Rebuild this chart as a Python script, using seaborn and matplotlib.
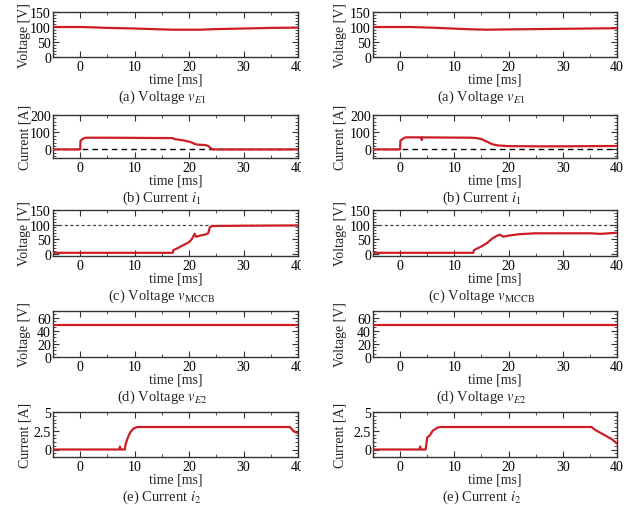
import numpy as np
import pandas as pd
import matplotlib
matplotlib.use("Agg")
import matplotlib.pyplot as plt
import seaborn as sns
from matplotlib.patches import Rectangle
from matplotlib.transforms import IdentityTransform
from matplotlib.ticker import MultipleLocator

# ---------------- data ----------------
# (a) voltage v_E1
t_a_left = [-5, 0, 2, 5, 10, 15, 17, 20, 22, 25, 30, 35, 40]
v_a_left = [100, 100, 99, 97, 95, 92, 91, 91, 91, 93, 95, 97, 98]
t_a_right = [-5, 0, 2, 7, 12, 16, 20, 25, 30, 35, 40]
v_a_right = [100, 100, 100, 97, 93, 91, 92, 93, 94, 95, 96]

# (b) current i1
t_b_left = [-5, 0, 0.05, 0.5, 1, 5, 10, 15, 17, 17.3, 18, 19, 20, 20.5, 21, 21.5, 23, 23.5, 24.2, 24.5, 40]
i_b_left = [0, 0, 50, 62, 68, 68, 67, 66, 66, 60, 57, 52, 45, 40, 32, 28, 25, 20, 2, 0, 0]
t_b_right = [-5, 0, 0.05, 0.5, 1, 3.9, 4.0, 4.1, 8, 13, 14, 15, 16, 17, 18, 20, 25, 30, 35, 40]
i_b_right = [0, 0, 50, 62, 70, 70, 55, 70, 69, 68, 66, 60, 45, 30, 23, 19, 18, 18, 19, 20]

# (c) voltage v_MCCB
t_c_left = [-5, 17, 17.1, 18, 19, 20, 20.5, 21, 21.3, 22, 23, 23.5, 23.8, 24.2, 30, 40]
v_c_left = [3, 3, 12, 20, 30, 40, 50, 68, 58, 62, 66, 70, 90, 95, 96, 97]
t_c_right = [-5, 13.5, 13.6, 15, 16, 17, 18, 18.5, 19, 20, 22, 25, 30, 35, 37, 40]
v_c_right = [3, 3, 12, 25, 36, 52, 63, 65, 58, 62, 67, 70, 70, 70, 68, 72]

# (d) voltage v_E2
t_d = [-5, 40]
v_d_left = [48, 48]
v_d_right = [48, 48]

# (e) current i2
t_e_left = [-5, 7.2, 7.3, 7.4, 8.2, 8.3, 8.7, 9.2, 9.8, 10.5, 38.5, 39, 39.5, 40]
i_e_left = [0, 0, 0.4, 0, 0, 0.6, 1.5, 2.3, 2.8, 3.0, 3.0, 2.6, 2.3, 2.2]
t_e_right = [-5, 3.6, 3.7, 3.8, 4.7, 4.8, 5.0, 5.5, 6.0, 7.0, 7.5, 35.3, 36, 37, 38, 39, 40]
i_e_right = [0, 0, 0.4, 0, 0, 0.5, 1.6, 1.9, 2.5, 2.95, 3.0, 3.0, 2.6, 2.2, 1.8, 1.4, 0.8]

ylabels = ["Voltage [V]", "Current [A]", "Voltage [V]", "Voltage [V]", "Current [A]"]
captions = [r"(a) Voltage $\mathit{v}_{E1}$", r"(b) Current $\mathit{i}_{1}$",
            r"(c) Voltage $\mathit{v}_{\mathrm{MCCB}}$", r"(d) Voltage $\mathit{v}_{E2}$",
            r"(e) Current $\mathit{i}_{2}$"]
ylims = [(0, 150), (-50, 200), (-8, 150), (0, 70), (-1, 5)]
yticks = [[0, 50, 100, 150], [0, 100, 200], [0, 50, 100, 150], [0, 20, 40, 60], [0, 2.5, 5]]
yticklabels = [["0", "50", "100", "150"], ["0", "100", "200"], ["0", "50", "100", "150"],
               ["0", "20", "40", "60"], ["0", "2.5", "5"]]
yminor = [10, 20, 10, 5, 0.5]
xticks = [0, 10, 20, 30, 40]
ref_lines = [None, 0, 100, None, None]

series_left = [(t_a_left, v_a_left), (t_b_left, i_b_left), (t_c_left, v_c_left),
               (t_d, v_d_left), (t_e_left, i_e_left)]
series_right = [(t_a_right, v_a_right), (t_b_right, i_b_right), (t_c_right, v_c_right),
                (t_d, v_d_right), (t_e_right, i_e_right)]

# ---------------- style ----------------
sns.set_style("ticks")
plt.rcParams["font.family"] = ["Liberation Serif", "DejaVu Serif"]
plt.rcParams["mathtext.fontset"] = "stix"
plt.rcParams["axes.edgecolor"] = "#333333"
plt.rcParams["axes.linewidth"] = 1.0
plt.rcParams["xtick.direction"] = "in"
plt.rcParams["ytick.direction"] = "in"
plt.rcParams["xtick.color"] = "#333333"
plt.rcParams["ytick.color"] = "#333333"
plt.rcParams["xtick.labelcolor"] = "black"
plt.rcParams["ytick.labelcolor"] = "black"

W, H = 635, 506
fig = plt.figure(figsize=(W / 100, H / 100), dpi=100)

rows_px = [(13, 58), (116, 159), (211, 257), (312, 358), (413, 458)]
cols_px = [(53, 298), (373, 617)]
ylabel_x = [-0.088, -0.107]
RED = "#cc1e24"
TICK_FS = 10
LABEL_FS = 10
CAP_FS = 10.5

for ci, (x0, x1) in enumerate(cols_px):
    series = series_left if ci == 0 else series_right
    for ri, (top, bot) in enumerate(rows_px):
        ax = fig.add_axes([x0 / W, 1 - bot / H, (x1 - x0) / W, (bot - top) / H])
        t, y = series[ri]
        df = pd.DataFrame({"t": t, "y": y})
        if ref_lines[ri] is not None:
            if ri == 1:
                ax.axhline(ref_lines[ri], color="black", lw=1.0, ls=(0, (4, 3)), zorder=1)
            else:
                ax.axhline(ref_lines[ri], color="#444444", lw=0.9, ls=(0, (2.5, 2)), zorder=1)
        sns.lineplot(data=df, x="t", y="y", ax=ax, color=RED, lw=1.6,
                     estimator=None, sort=False, zorder=3)
        ax.set_xlim(-5, 40)
        ax.set_ylim(*ylims[ri])
        ax.set_xticks(xticks)
        ax.set_xticklabels([str(v) for v in xticks])
        ax.set_yticks(yticks[ri])
        ax.set_yticklabels(yticklabels[ri])
        ax.xaxis.set_minor_locator(MultipleLocator(5))
        ax.yaxis.set_minor_locator(MultipleLocator(yminor[ri]))
        ax.tick_params(which="both", top=True, right=True, labelsize=TICK_FS)
        ax.tick_params(axis="x", pad=2.5)
        ax.tick_params(axis="y", pad=1.5)
        ax.tick_params(which="major", length=4, width=0.8)
        ax.tick_params(which="minor", length=2, width=0.6)
        ax.set_xlabel("time [ms]", fontsize=LABEL_FS, labelpad=-1)
        ax.set_ylabel(ylabels[ri], fontsize=LABEL_FS)
        ax.yaxis.set_label_coords(ylabel_x[ci], 0.5)
        cap_x = (162 - 53) / 245
        ax.annotate(captions[ri], xy=(cap_x, 0), xycoords="axes fraction",
                    xytext=(0, -39), textcoords="offset pixels",
                    ha="center", va="center", fontsize=CAP_FS)
        for s in ax.spines.values():
            s.set_visible(True)
        if ci == 0:
            # the reference crops the right edge of the left column's "40" label
            fig.add_artist(Rectangle((300.5, H - bot - 17), 18, 15,
                                     transform=IdentityTransform(),
                                     facecolor="white", edgecolor="none", zorder=10))

fig.savefig("out.png", dpi=100)
